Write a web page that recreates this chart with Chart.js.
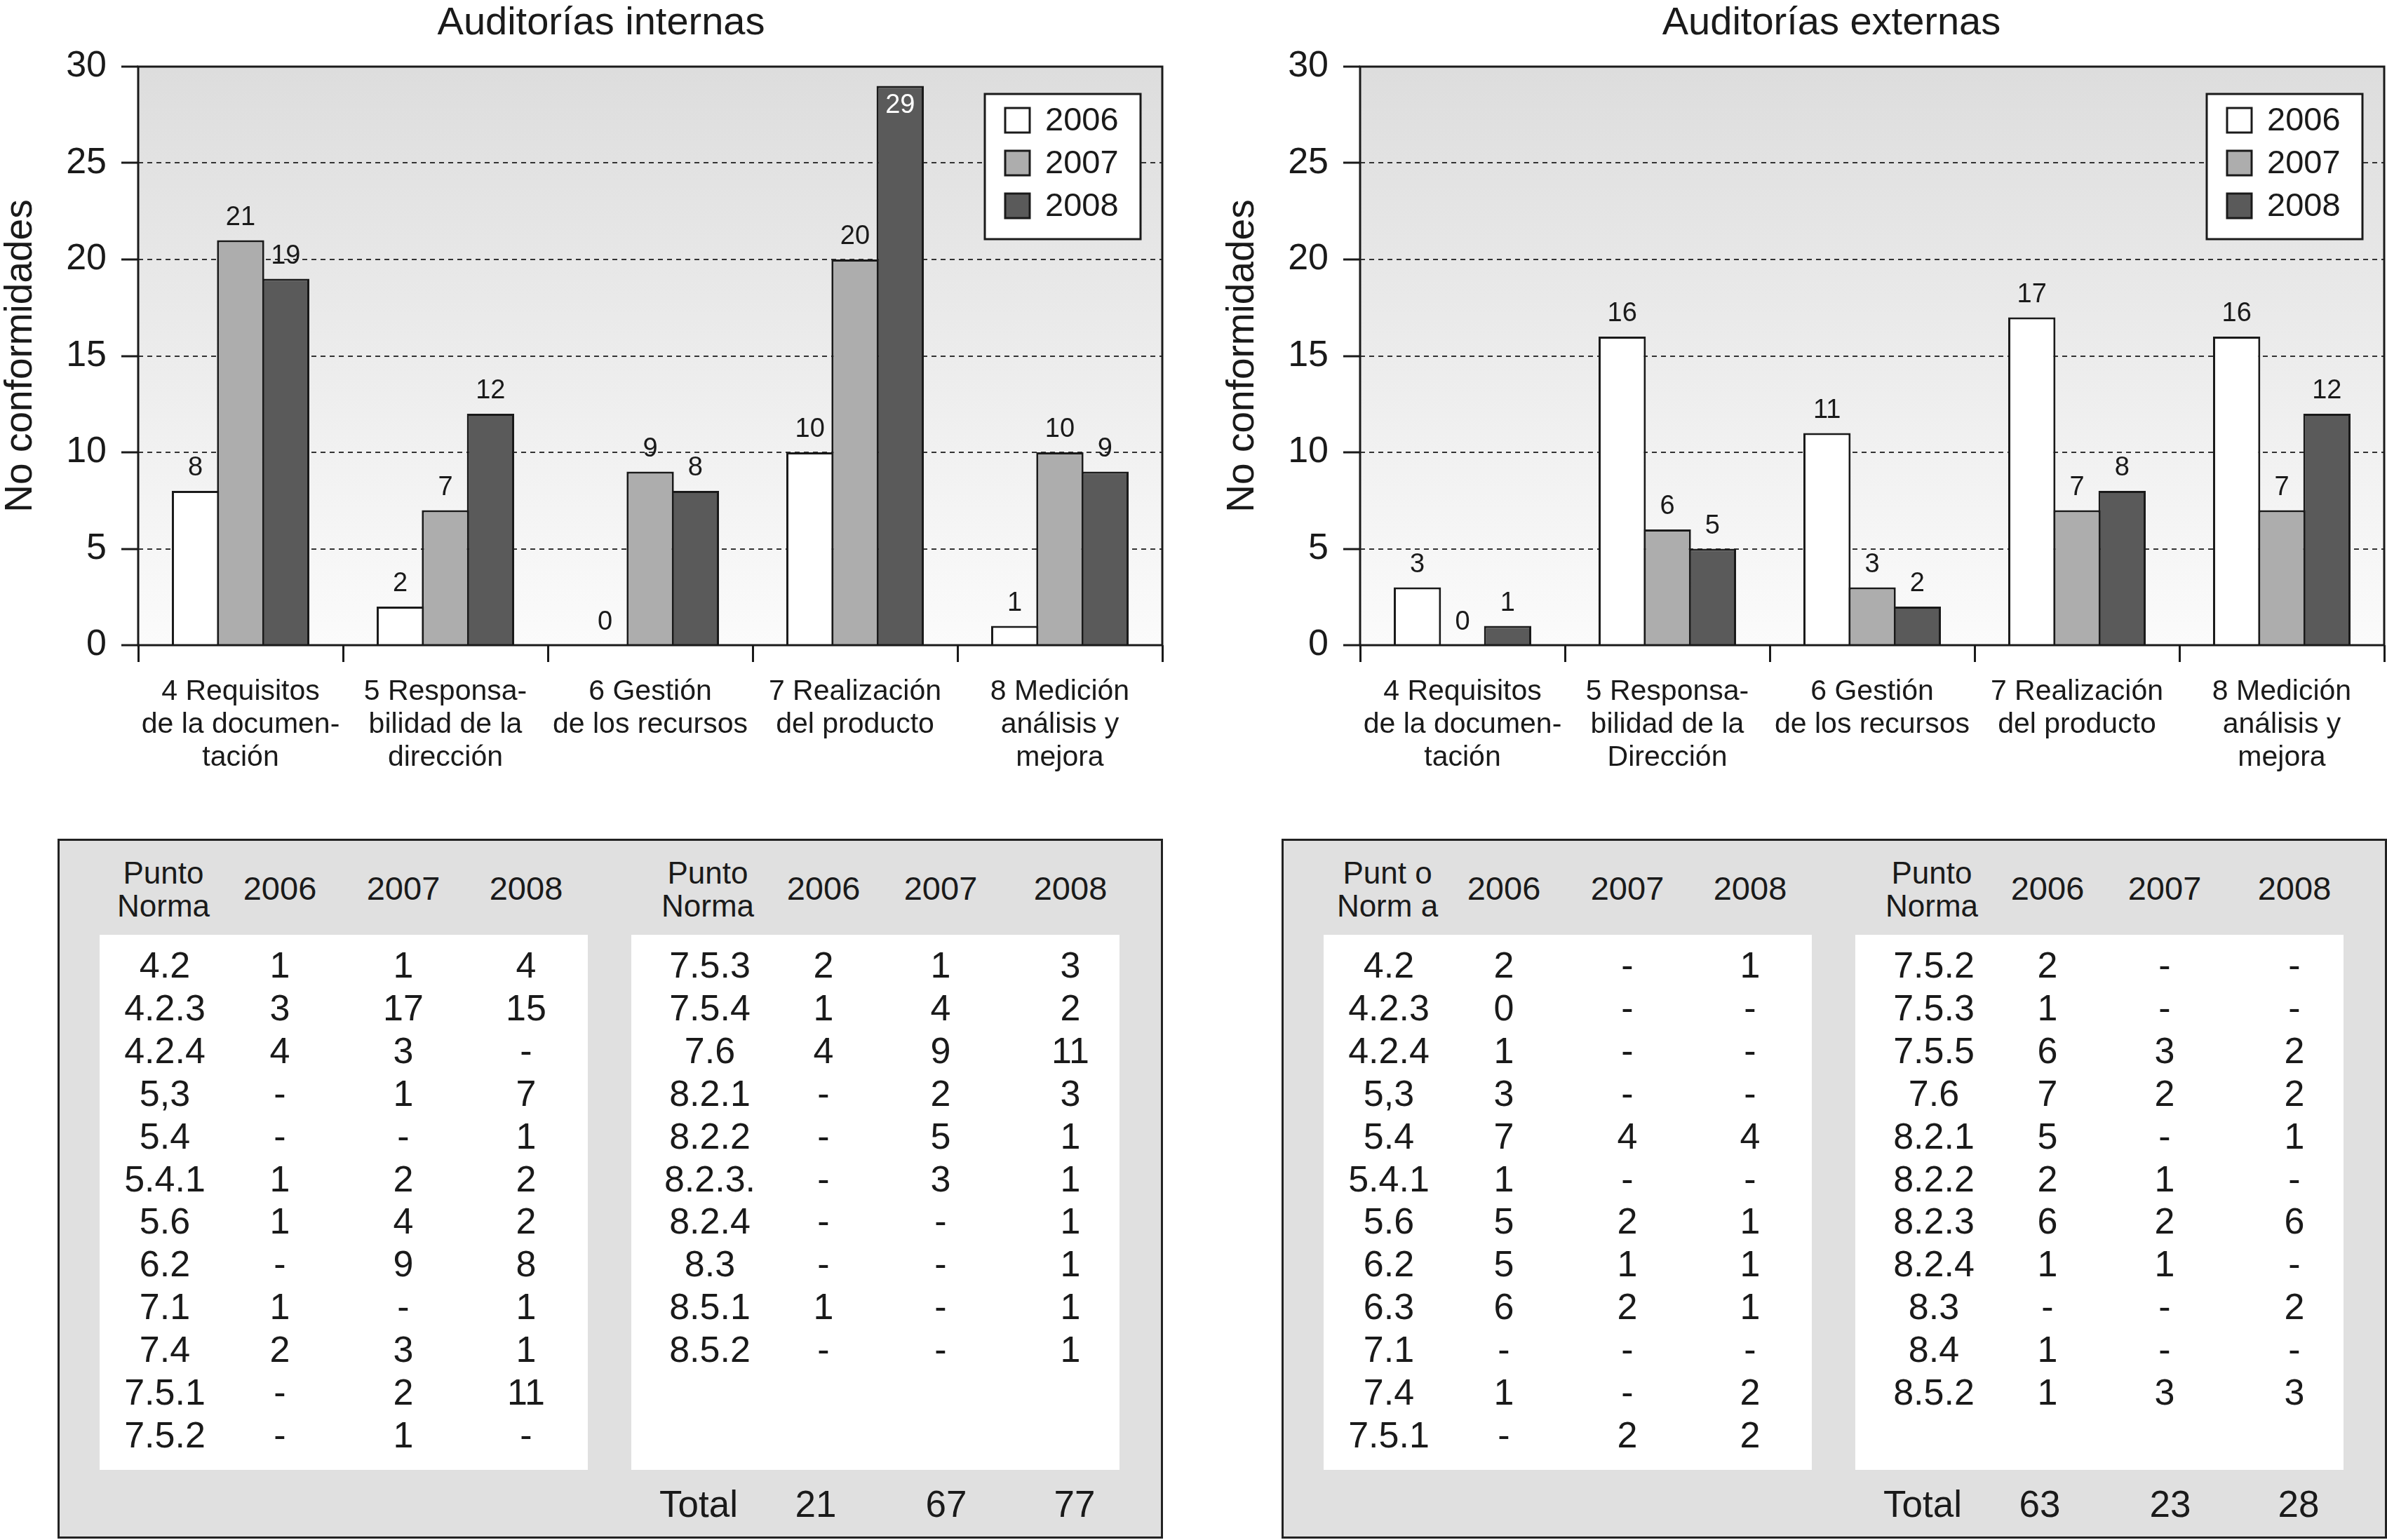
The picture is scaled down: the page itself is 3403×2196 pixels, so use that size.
<!DOCTYPE html>
<html><head><meta charset="utf-8">
<script src="https://cdn.jsdelivr.net/npm/chart.js@4.4.1/dist/chart.umd.min.js"></script>
<style>
html,body{margin:0;padding:0;background:#fff;width:3403px;height:2196px;overflow:hidden;font-family:"Liberation Sans",Arial,Helvetica,sans-serif;color:#1a1a1a;}
canvas{position:absolute;top:0;}
.title{position:absolute;top:2px;font-size:56px;line-height:1;white-space:nowrap;transform:translateX(-50%);}
.tbox{position:absolute;top:1196px;width:1576px;height:998px;background:#e0e0e0;border:3px solid #222;box-sizing:border-box;}
.panel{position:absolute;width:696px;height:763px;background:#fff;}
.cell{position:absolute;line-height:1;white-space:nowrap;transform:translate(-50%,-50%);text-align:center;}
</style></head><body>
<div class="title" style="left:857px">Auditorías internas</div>
<div class="title" style="left:2611px">Auditorías externas</div>
<canvas id="cInt" width="1661" height="1130" style="left:0"></canvas>
<canvas id="cExt" width="1661" height="1130" style="left:1742px"></canvas>
<div id="tInt" class="tbox" style="left:82px"></div>
<div id="tExt" class="tbox" style="left:1827px"></div>
<script>
// ---- Chart data ----
const categoriesInt = [["4 Requisitos","de la documen-","tación"],["5 Responsa-","bilidad de la","dirección"],["6 Gestión","de los recursos"],["7 Realización","del producto"],["8 Medición","análisis y","mejora"]];
const categoriesExt = [["4 Requisitos","de la documen-","tación"],["5 Responsa-","bilidad de la","Dirección"],["6 Gestión","de los recursos"],["7 Realización","del producto"],["8 Medición","análisis y","mejora"]];
const years = ["2006","2007","2008"];
const int2006 = [8,2,0,10,1];
const int2007 = [21,7,9,20,10];
const int2008 = [19,12,8,29,9];
const ext2006 = [3,16,11,17,16];
const ext2007 = [0,6,3,7,7];
const ext2008 = [1,5,2,8,12];
const yTicks = [0,5,10,15,20,25,30];
const yTitle = "No conformidades";

// ---- Table data ----
const headPuntoInt = ["Punto","Norma"];
const headPuntoExt = ["Punt o","Norm a"];
const headPunto = ["Punto","Norma"];
const totalLabel = "Total";
const intPuntoA = ["4.2","4.2.3","4.2.4","5,3","5.4","5.4.1","5.6","6.2","7.1","7.4","7.5.1","7.5.2"];
const intA2006 = ["1","3","4","-","-","1","1","-","1","2","-","-"];
const intA2007 = ["1","17","3","1","-","2","4","9","-","3","2","1"];
const intA2008 = ["4","15","-","7","1","2","2","8","1","1","11","-"];
const intPuntoB = ["7.5.3","7.5.4","7.6","8.2.1","8.2.2","8.2.3.","8.2.4","8.3","8.5.1","8.5.2"];
const intB2006 = ["2","1","4","-","-","-","-","-","1","-"];
const intB2007 = ["1","4","9","2","5","3","-","-","-","-"];
const intB2008 = ["3","2","11","3","1","1","1","1","1","1"];
const intTotals = ["21","67","77"];
const extPuntoA = ["4.2","4.2.3","4.2.4","5,3","5.4","5.4.1","5.6","6.2","6.3","7.1","7.4","7.5.1"];
const extA2006 = ["2","0","1","3","7","1","5","5","6","-","1","-"];
const extA2007 = ["-","-","-","-","4","-","2","1","2","-","-","2"];
const extA2008 = ["1","-","-","-","4","-","1","1","1","-","2","2"];
const extPuntoB = ["7.5.2","7.5.3","7.5.5","7.6","8.2.1","8.2.2","8.2.3","8.2.4","8.3","8.4","8.5.2"];
const extB2006 = ["2","1","6","7","5","2","6","1","-","1","1"];
const extB2007 = ["-","-","3","2","-","1","2","1","-","-","3"];
const extB2008 = ["-","-","2","2","1","-","6","-","2","-","3"];
const extTotals = ["63","23","28"];

const FAM = '"Liberation Sans", Arial, Helvetica, sans-serif';
const INK = '#1a1a1a';
Chart.defaults.font.family = FAM;
Chart.defaults.color = INK;

const bgPlugin = {id:'bgGrad', beforeDraw(chart){
  const {ctx, chartArea:a} = chart;
  const g = ctx.createLinearGradient(0,a.top,0,a.bottom);
  g.addColorStop(0,'#dddddd'); g.addColorStop(1,'#fbfbfb');
  ctx.save(); ctx.fillStyle = g; ctx.fillRect(a.left,a.top,a.right-a.left,a.bottom-a.top); ctx.restore();
}};
const framePlugin = {id:'frame', afterDatasetsDraw(chart){
  const {ctx, chartArea:a} = chart;
  ctx.save(); ctx.strokeStyle = INK; ctx.lineWidth = 3;
  ctx.strokeRect(a.left,a.top,a.right-a.left,a.bottom-a.top); ctx.restore();
}};
const labelPlugin = {id:'vals', afterDatasetsDraw(chart){
  const {ctx, chartArea:a} = chart;
  ctx.save(); ctx.font = '38px ' + FAM; ctx.textAlign = 'center'; ctx.textBaseline = 'middle';
  chart.data.datasets.forEach((ds,i)=>{
    chart.getDatasetMeta(i).data.forEach((bar,j)=>{
      let y = bar.y - 32, col = INK;
      if (y - 16 < a.top) { y = bar.y + 28; col = '#ffffff'; }
      ctx.fillStyle = col; ctx.fillText(String(ds.data[j]), bar.x, y);
    });
  });
  ctx.restore();
}};
const legendPlugin = {id:'boxLegend', afterDraw(chart){
  const {ctx, chartArea:a} = chart;
  const w = 222, h = 207, x = a.right - 253, y = a.top + 39;
  ctx.save();
  ctx.fillStyle = '#fff'; ctx.fillRect(x,y,w,h);
  ctx.strokeStyle = INK; ctx.lineWidth = 3; ctx.strokeRect(x,y,w,h);
  ctx.font = '47px ' + FAM; ctx.textAlign = 'left'; ctx.textBaseline = 'middle';
  chart.data.datasets.forEach((ds,i)=>{
    const cy = y + 37 + i*61;
    ctx.fillStyle = ds.backgroundColor; ctx.fillRect(x+29, cy-17, 35, 35);
    ctx.lineWidth = 3; ctx.strokeRect(x+29, cy-17, 35, 35);
    ctx.fillStyle = INK; ctx.fillText(ds.label, x+86, cy+2);
  });
  ctx.restore();
}};

function makeChart(id, cats, d06, d07, d08){
  return new Chart(document.getElementById(id), {
    type:'bar',
    data:{labels:cats, datasets:[
      {label:years[0], data:d06, backgroundColor:'#ffffff'},
      {label:years[1], data:d07, backgroundColor:'#adadad'},
      {label:years[2], data:d08, backgroundColor:'#5a5a5a'}
    ]},
    options:{
      responsive:false, devicePixelRatio:1, animation:false,
      layout:{padding:{left:0,right:4,top:95,bottom:0}},
      datasets:{bar:{borderColor:INK, borderWidth:3, categoryPercentage:0.661, barPercentage:1.047}},
      plugins:{legend:{display:false}, tooltip:{enabled:false}, title:{display:false}},
      scales:{
        x:{
          grid:{display:true, drawOnChartArea:false, drawTicks:true, tickLength:24, tickWidth:3, lineWidth:3, tickColor:INK, color:INK, offset:true},
          border:{display:false},
          ticks:{font:{size:41, lineHeight:1.15}, color:INK, padding:19, maxRotation:0, minRotation:0, autoSkip:false},
          afterFit(s){ s.height = 210; }
        },
        y:{
          min:0, max:30,
          afterBuildTicks(s){ s.ticks = yTicks.map(v=>({value:v})); },
          ticks:{font:{size:52}, padding:21, color:INK},
          grid:{color:'#333333', lineWidth:2, tickLength:24, tickWidth:3, tickColor:INK, tickBorderDash:[]},
          border:{display:false, dash:[7,6]},
          title:{display:true, text:yTitle, font:{size:55, lineHeight:1.1}, padding:0, color:INK},
          afterFit(s){ s.width = 197; }
        }
      }
    },
    plugins:[bgPlugin, framePlugin, labelPlugin, legendPlugin]
  });
}
makeChart('cInt', categoriesInt, int2006, int2007, int2008);
makeChart('cExt', categoriesExt, ext2006, ext2007, ext2008);

// ---- Tables ----
const B = 3; // border
function cell(parent, text, cx, cy, size, lh){
  const d = document.createElement('div');
  d.className = 'cell';
  d.style.left = (cx - B) + 'px'; d.style.top = (cy - B) + 'px';
  d.style.fontSize = size + 'px';
  if (lh) d.style.lineHeight = lh + 'px';
  if (Array.isArray(text)) d.innerHTML = text.join('<br>'); else d.textContent = text;
  parent.appendChild(d);
}
function buildTable(id, headA, puntoA, a06, a07, a08, puntoB, b06, b07, b08, totals){
  const el = document.getElementById(id);
  [60, 818].forEach(px=>{
    const p = document.createElement('div'); p.className = 'panel';
    p.style.left = (px - B) + 'px'; p.style.top = (137 - B) + 'px'; el.appendChild(p);
  });
  const colsA = [153,317,493,668], colsB = [930,1092,1259,1444];
  const headY = 70, row0 = 180, step = 60.9;
  cell(el, headA, colsA[0]-2, headY+2, 44, 47);
  cell(el, headPunto, colsB[0]-3, headY+2, 44, 47);
  years.forEach((yr,i)=>{ cell(el, yr, colsA[i+1], headY, 47); cell(el, yr, colsB[i+1], headY, 47); });
  puntoA.forEach((p,r)=>{
    const cy = row0 + r*step;
    cell(el, p, colsA[0], cy, 52); cell(el, a06[r], colsA[1], cy, 52); cell(el, a07[r], colsA[2], cy, 52); cell(el, a08[r], colsA[3], cy, 52);
  });
  puntoB.forEach((p,r)=>{
    const cy = row0 + r*step;
    cell(el, p, colsB[0], cy, 52); cell(el, b06[r], colsB[1], cy, 52); cell(el, b07[r], colsB[2], cy, 52); cell(el, b08[r], colsB[3], cy, 52);
  });
  const totY = 948, totCols = [914,1081,1267,1450];
  cell(el, totalLabel, totCols[0], totY, 53);
  totals.forEach((t,i)=>cell(el, t, totCols[i+1], totY, 53));
}
buildTable('tInt', headPuntoInt, intPuntoA, intA2006, intA2007, intA2008, intPuntoB, intB2006, intB2007, intB2008, intTotals);
buildTable('tExt', headPuntoExt, extPuntoA, extA2006, extA2007, extA2008, extPuntoB, extB2006, extB2007, extB2008, extTotals);
</script>
</body></html>
